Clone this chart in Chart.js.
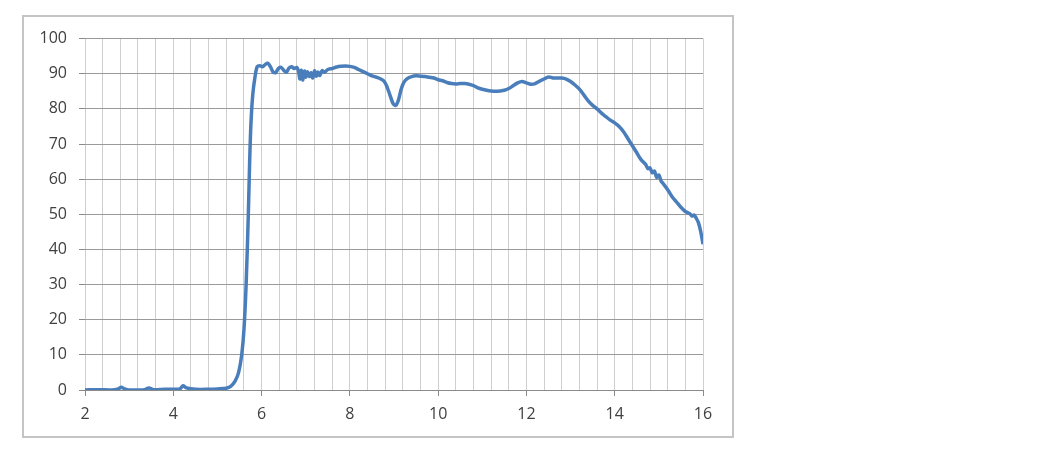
<!DOCTYPE html>
<html>
<head>
<meta charset="utf-8">
<script src="https://cdn.jsdelivr.net/npm/chart.js@4"></script>
<style>
  body { margin: 0; background: #fff; }
  #box {
    position: absolute; left: 22px; top: 15px;
    width: 708px; height: 419px;
    border: 2px solid #c4c4c4; background: #fff;
  }
</style>
</head>
<body>
<div id="box"><canvas id="chart"></canvas></div>
<script>
// Curve (x position, y value)
const xValues = [
  2.0, 2.3, 2.6, 2.75, 2.82, 2.9, 3.0, 3.2, 3.35, 3.45, 3.55, 3.8, 4.0, 4.15, 4.22, 4.3, 4.5, 4.8, 5.0, 5.2,
  5.3, 5.4, 5.48, 5.55, 5.6, 5.65, 5.7, 5.73, 5.76, 5.8, 5.85, 5.9, 5.96, 6.02, 6.08, 6.14, 6.2, 6.26, 6.32, 6.38,
  6.44, 6.5, 6.56, 6.62, 6.68, 6.74, 6.8, 6.84, 6.87, 6.9, 6.93, 6.97, 7.0, 7.04, 7.08, 7.12, 7.16, 7.2, 7.24, 7.28,
  7.32, 7.37, 7.42, 7.5, 7.6, 7.7, 7.8, 7.9, 8.0, 8.1, 8.2, 8.3, 8.4, 8.5, 8.6, 8.7, 8.78, 8.85, 8.92, 8.98,
  9.04, 9.1, 9.16, 9.22, 9.3, 9.4, 9.5, 9.6, 9.7, 9.8, 9.9, 10.0, 10.1, 10.2, 10.3, 10.4, 10.5, 10.6, 10.7, 10.8,
  10.9, 11.0, 11.1, 11.2, 11.3, 11.4, 11.5, 11.6, 11.7, 11.8, 11.9, 12.0, 12.1, 12.2, 12.3, 12.4, 12.5, 12.6, 12.7, 12.8,
  12.9, 13.0, 13.1, 13.2, 13.3, 13.4, 13.5, 13.6, 13.7, 13.8, 13.9, 14.0, 14.1, 14.2, 14.3, 14.4, 14.5, 14.6, 14.7, 14.75,
  14.8, 14.85, 14.9, 14.95, 15.0, 15.05, 15.1, 15.2, 15.3, 15.4, 15.5, 15.6, 15.7, 15.75, 15.8, 15.85, 15.9, 15.95, 16.0
];
const yValues = [
  0, 0.1, 0, 0.3, 0.8, 0.3, 0, 0, 0.1, 0.6, 0.1, 0.2, 0.2, 0.3, 1.2, 0.6, 0.2, 0.2, 0.3, 0.5,
  1, 2.5, 5, 10, 17, 30, 50, 65, 76, 84, 89, 92, 92.3, 92, 92.6, 93, 92, 90.5, 90.3, 91.5,
  91.8, 91, 90.4, 91.6, 92, 91.5, 91.8, 90.5, 88.5, 91, 88.2, 90.8, 89, 90.6, 89.2, 90.3, 88.8, 90.8, 89.3, 90.5,
  89.5, 90.9, 90.4, 91.2, 91.5, 91.9, 92.1, 92.2, 92.1, 91.8, 91.2, 90.6, 90, 89.4, 89, 88.5, 87.8, 86, 83.5, 81.5,
  81, 82.5, 85.5, 87.5, 88.6, 89.2, 89.4, 89.3, 89.2, 89, 88.8, 88.3, 88, 87.5, 87.2, 87.1, 87.2, 87.2, 87, 86.6,
  86, 85.6, 85.3, 85.1, 85, 85.1, 85.3, 85.8, 86.6, 87.4, 87.8, 87.4, 87.0, 87.2, 87.9, 88.5, 89.1, 88.8, 88.8, 88.8,
  88.5, 87.8, 86.8, 85.6, 84, 82.3, 81, 80, 78.8, 77.8, 76.8, 76, 75, 73.5, 71.5, 69.5, 67.5, 65.5, 64.2, 63,
  63.2, 61.8, 62.3, 60.5, 61.2, 59.5, 58.7, 57, 55, 53.5, 52, 50.8, 50.2, 49.5, 49.8, 48.8, 47.5, 45, 41.5
];

const xMin = 2, xMax = 16, xStep = 0.4;
const yMin = 0, yMax = 100, yStep = 10;

const points = xValues.map((x, i) => ({ x: x, y: yValues[i] }));

// only even whole numbers get a label / tick mark
function isMajor(v) {
  const r = Math.round(v);
  return Math.abs(v - r) < 1e-6 && r % 2 === 0;
}

const labelFont = { family: '"Open Sans", Lato, sans-serif', size: 16 };

new Chart(document.getElementById('chart'), {
  type: 'line',
  data: {
    datasets: [{
      data: points,
      borderColor: '#4a7ebb',
      borderWidth: 3.5,
      pointRadius: 0,
      tension: 0.3,
      fill: false
    }]
  },
  options: {
    responsive: true,
    maintainAspectRatio: false,
    animation: false,
    layout: { padding: { left: 0, top: 21, right: 29, bottom: 0 } },
    plugins: { legend: { display: false }, tooltip: { enabled: false } },
    scales: {
      x: {
        type: 'linear',
        min: xMin, max: xMax,
        afterFit: (scale) => { scale.height = 46; },
        ticks: {
          stepSize: xStep,
          autoSkip: false,
          maxRotation: 0,
          minRotation: 0,
          padding: 9,
          color: '#404040',
          font: labelFont,
          callback: (v) => isMajor(v) ? String(Math.round(v)) : ''
        },
        grid: {
          color: '#cfcfcf',
          lineWidth: 1,
          tickLength: 6,
          tickColor: (ctx) => (ctx.tick && isMajor(ctx.tick.value)) ? '#8a8a8a' : 'rgba(0,0,0,0)'
        },
        border: { display: true, color: '#8a8a8a', width: 1 }
      },
      y: {
        min: yMin, max: yMax,
        afterFit: (scale) => { scale.width = 61; },
        ticks: {
          stepSize: yStep,
          padding: 12,
          color: '#404040',
          font: labelFont
        },
        grid: {
          color: '#9a9a9a',
          lineWidth: 1,
          tickLength: 6,
          tickColor: '#8a8a8a'
        },
        border: { display: false }
      }
    }
  }
});
</script>
</body>
</html>
